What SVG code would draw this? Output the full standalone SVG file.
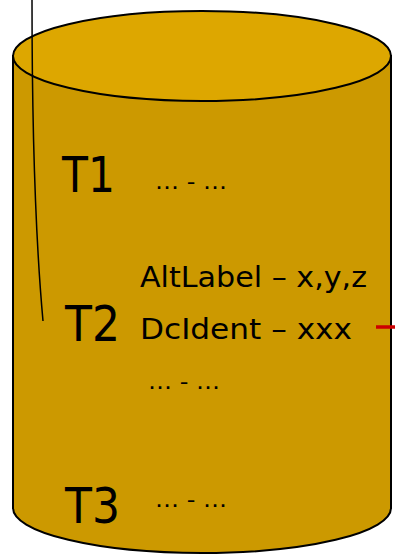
<svg xmlns="http://www.w3.org/2000/svg" width="395" height="556" viewBox="0 0 395 556">
<style>
.big{font-family:"DejaVu Sans",sans-serif;font-size:50px;fill:#000}
.mid{font-family:"DejaVu Sans",sans-serif;font-size:28px;fill:#000}
.dots{font-family:"DejaVu Sans",sans-serif;font-size:22px;fill:#000}
.edge{fill:none;stroke:#000;stroke-width:1.5}
</style>
<rect width="395" height="556" fill="#fff"/>
<g id="cylinder">
<path d="M13,56 L13,508 A189,45 0 0 0 391,508 L391,56 Z" fill="#CC9900" stroke="#000" stroke-width="2"/>
<ellipse cx="202" cy="56" rx="189" ry="45" fill="#DDA700" stroke="#000" stroke-width="2"/>
</g>
<g id="t1">
<text class="big" x="62" y="192" textLength="53" lengthAdjust="spacingAndGlyphs">T1</text>
<text class="dots" x="155" y="189" textLength="72" lengthAdjust="spacingAndGlyphs">… - …</text>
</g>
<g id="t2">
<text class="big" x="65" y="341" textLength="55" lengthAdjust="spacingAndGlyphs">T2</text>
<text class="mid" x="140" y="287" textLength="227" lengthAdjust="spacingAndGlyphs">AltLabel – x,y,z</text>
<text class="mid" x="140" y="339" textLength="212" lengthAdjust="spacingAndGlyphs">DcIdent – xxx</text>
<text class="dots" x="148" y="389" textLength="72" lengthAdjust="spacingAndGlyphs">… - …</text>
</g>
<g id="t3">
<text class="big" x="65" y="523" textLength="55" lengthAdjust="spacingAndGlyphs">T3</text>
<text class="dots" x="155" y="507" textLength="72" lengthAdjust="spacingAndGlyphs">… - …</text>
</g>
<g id="connectors">
<path class="edge" d="M32,0 Q32,200 43,321"/>
<line x1="376" y1="327" x2="395" y2="327" stroke="#CC0000" stroke-width="3.5"/>
</g>
</svg>
